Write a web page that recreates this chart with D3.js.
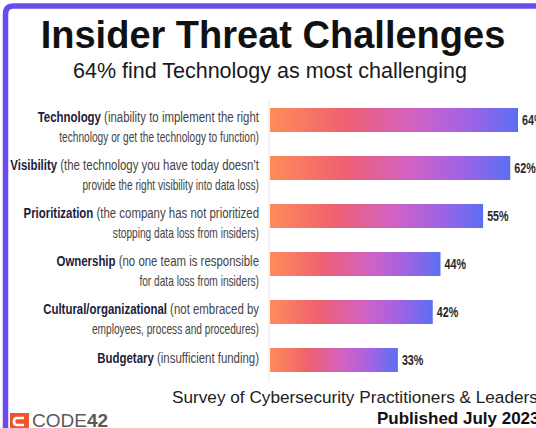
<!DOCTYPE html>
<html>
<head>
<meta charset="utf-8">
<script src="https://cdn.jsdelivr.net/npm/d3@7"></script>
<style>
  html, body { margin: 0; padding: 0; background: #ffffff; }
  svg { display: block; }
</style>
</head>
<body>
<svg id="chart" width="536" height="428"></svg>
<script>
// ---- Data ----
const categories = ["Technology", "Visibility", "Prioritization", "Ownership", "Cultural/organizational", "Budgetary"];
const descLine1 = [
  " (inability to implement the right",
  " (the technology you have today doesn\u2019t",
  " (the company has not prioritized",
  " (no one team is responsible",
  " (not embraced by",
  " (insufficient funding)"
];
const descLine2 = [
  "technology or get the technology to function)",
  "provide the right visibility into data loss)",
  "stopping data loss from insiders)",
  "for data loss from insiders)",
  "employees, process and procedures)",
  ""
];
const values = [64, 62, 55, 44, 42, 33];
const valueLabels = ["64%", "62%", "55%", "44%", "42%", "33%"];
const titleText = "Insider Threat Challenges";
const subtitleText = "64% find Technology as most challenging";
const sourceText = "Survey of Cybersecurity Practitioners & Leaders";
const publishedText = "Published July 2023";

// ---- Drawing ----
const svg = d3.select("#chart");

// frame
svg.append("path")
  .attr("d", "M5.5,428 L5.5,14 Q5.5,6 13.5,6 L536,6")
  .attr("fill", "none")
  .attr("stroke", "#6a4bef")
  .attr("stroke-width", 5.5);

// gradient
const defs = svg.append("defs");
const grad = defs.append("linearGradient").attr("id", "barGrad")
  .attr("x1", "0%").attr("x2", "100%").attr("y1", "0%").attr("y2", "0%");
[["0%", "#ff8c5a"], ["30%", "#ef6170"], ["58%", "#d262c4"], ["80%", "#9f63e4"], ["100%", "#5b6ff2"]]
  .forEach(([o, c]) => grad.append("stop").attr("offset", o).attr("stop-color", c));

// title
svg.append("text")
  .attr("x", 273).attr("y", 48)
  .attr("text-anchor", "middle")
  .attr("font-family", "Liberation Sans, Arial, sans-serif")
  .attr("font-weight", "bold")
  .attr("font-size", 38)
  .attr("fill", "#111")
  .text(titleText);

svg.append("text")
  .attr("x", 270).attr("y", 78)
  .attr("text-anchor", "middle")
  .attr("font-family", "Liberation Sans, Arial, sans-serif")
  .attr("font-size", 21.5)
  .attr("fill", "#1a1a1a")
  .text(subtitleText);

// scales
const x = d3.scaleLinear().domain([0, 64]).range([270, 518]);
const y = d3.scaleBand().domain(categories).range([96, 384]).paddingInner(0.5).paddingOuter(0.25);

// axis line
const yAxis = d3.axisLeft(y).tickSize(0).tickFormat("");
const axisG = svg.append("g").attr("transform", `translate(${x(0) - 1},0)`).call(yAxis);
axisG.select(".domain").attr("stroke", "#e6e6e6").attr("stroke-width", 1)
  .attr("d", `M0,100V382`);

// bars
svg.append("g").selectAll("rect")
  .data(categories)
  .join("rect")
  .attr("x", x(0))
  .attr("y", d => y(d))
  .attr("width", (d, i) => x(values[i]) - x(0))
  .attr("height", y.bandwidth())
  .attr("fill", "url(#barGrad)");

// condensed look: horizontal squeeze of a normal sans
const labelFont = "Liberation Sans, Arial, sans-serif";

// value labels
svg.append("g").selectAll("text")
  .data(categories)
  .join("text")
  .attr("transform", (d, i) => `translate(${x(values[i]) + 4},${y(d) + y.bandwidth() / 2 + 5}) scale(0.74,1)`)
  .attr("font-family", labelFont)
  .attr("font-weight", "bold")
  .attr("font-size", 14.5)
  .attr("fill", "#2a2a2a")
  .text((d, i) => valueLabels[i]);

// category labels
const lg = svg.append("g");
categories.forEach((cat, i) => {
  const cy = y(cat) + y.bandwidth() / 2;
  const twoLine = descLine2[i] !== "";
  const t1 = lg.append("text")
    .attr("class", "l1")
    .attr("data-base", `translate(259,${twoLine ? cy + 1.5 : cy + 3})`)
    .attr("text-anchor", "end")
    .attr("font-family", labelFont)
    .attr("font-size", 14)
    .attr("fill", "#444");
  t1.append("tspan").attr("font-weight", "bold").attr("fill", "#1c1c3c").text(cat);
  t1.append("tspan").text(descLine1[i]);
  if (twoLine) {
    lg.append("text")
      .attr("class", "l2")
      .attr("data-base", `translate(259,${cy + 21.5})`)
      .attr("text-anchor", "end")
      .attr("font-family", labelFont)
      .attr("font-size", 14)
      .attr("fill", "#444")
      .text(descLine2[i]);
  }
});
// fit widths to the reference: line 2 of "Technology" spans ~200px, line 1 of "Visibility" ~250px
const ref2 = lg.selectAll("text.l2").nodes()[0];
const ref1 = lg.selectAll("text.l1").nodes()[1];
const k2 = ref2 ? 200 / ref2.getComputedTextLength() : 0.7;
const k1 = ref1 ? 249 / ref1.getComputedTextLength() : 0.75;
lg.selectAll("text.l1").attr("transform", function () {
  return d3.select(this).attr("data-base") + ` scale(${k1},1)`;
});
lg.selectAll("text.l2").attr("transform", function () {
  return d3.select(this).attr("data-base") + ` scale(${k2},1)`;
});

// footer
svg.append("text")
  .attr("x", 172).attr("y", 403)
  .attr("font-family", "Liberation Sans, Arial, sans-serif")
  .attr("font-size", 17.2)
  .attr("fill", "#222")
  .text(sourceText);
svg.append("text")
  .attr("x", 377).attr("y", 424)
  .attr("font-family", "Liberation Sans, Arial, sans-serif")
  .attr("font-weight", "bold")
  .attr("font-size", 17)
  .attr("fill", "#111")
  .text(publishedText);

// logo
const logo = svg.append("g");
logo.append("rect").attr("x", 10).attr("y", 413).attr("width", 19).attr("height", 18).attr("fill", "#f0552a");
logo.append("path")
  .attr("d", "M24,418 L17,418 Q14,418 14,421.5 Q14,425 17,425 L24,425")
  .attr("fill", "none").attr("stroke", "#fff").attr("stroke-width", 2.6);
const lt = logo.append("text")
  .attr("x", 32).attr("y", 427)
  .attr("font-family", "Liberation Sans, Arial, sans-serif")
  .attr("font-size", 19)
  .attr("fill", "#5a5a5a");
lt.append("tspan").text("CODE");
lt.append("tspan").attr("font-weight", "bold").text("42");
</script>
</body>
</html>
